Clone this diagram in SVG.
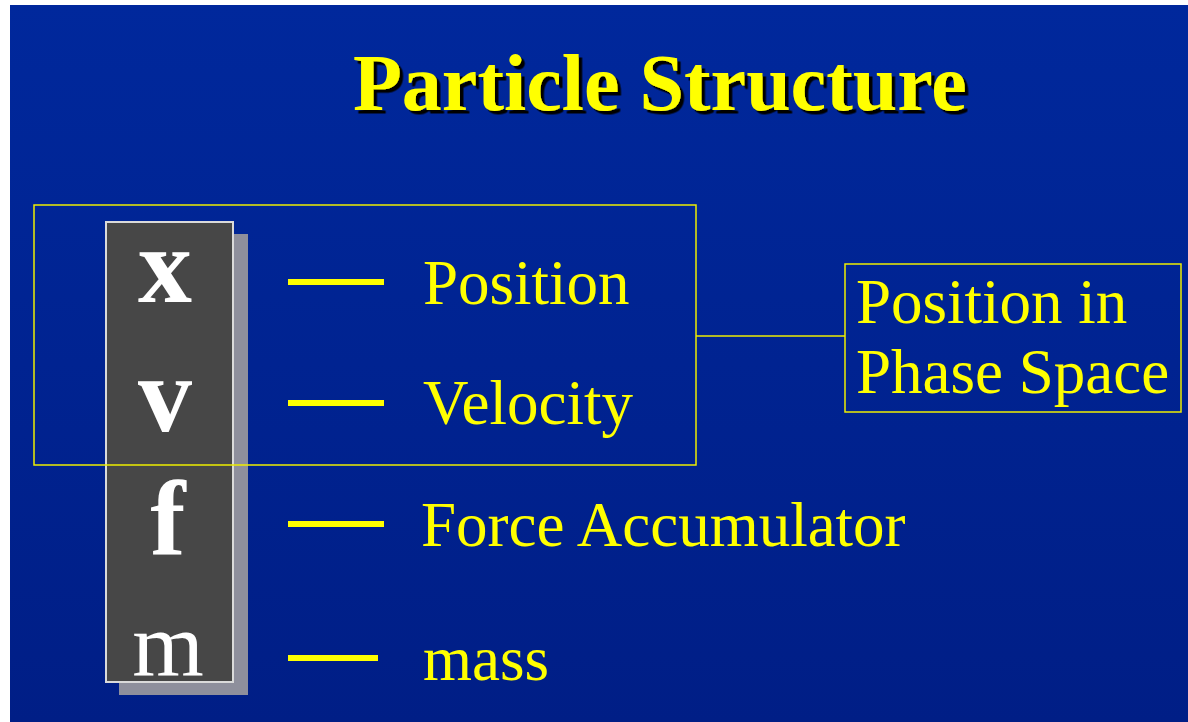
<svg xmlns="http://www.w3.org/2000/svg" width="1188" height="722" viewBox="0 0 1188 722">
  <defs>
    <linearGradient id="bg" x1="0" y1="0" x2="0" y2="1">
      <stop offset="0" stop-color="#00289C"/>
      <stop offset="1" stop-color="#001E86"/>
    </linearGradient>
    <filter id="shadow" x="-5%" y="-20%" width="110%" height="140%">
      <feDropShadow dx="3.5" dy="3.5" stdDeviation="0.6" flood-color="#000000" flood-opacity="1"/>
    </filter>
    <style>
      .title { font-family: "Liberation Serif", "Times New Roman", serif; font-weight: bold; font-size: 80px; fill: #FFFF00; }
      .label { font-family: "Liberation Serif", "Times New Roman", serif; font-size: 63px; fill: #FFFF00; }
      .sym { font-family: "Liberation Serif", "Times New Roman", serif; fill: #FFFFFF; text-anchor: middle; }
      .dash { fill: #FFFF00; }
      .frame { fill: none; stroke: #EEEE00; stroke-width: 1.5; }
    </style>
  </defs>

  <rect x="0" y="0" width="1188" height="722" fill="#FFFFFF"/>
  <rect x="10" y="5" width="1178" height="717" fill="url(#bg)"/>

  <text class="title" x="353" y="110" filter="url(#shadow)">Particle Structure</text>

  <g id="particle-column">
    <rect x="119" y="234" width="129" height="461" fill="#8E8F9C"/>
    <rect x="106" y="222" width="127" height="460" fill="#474747" stroke="#DADADA" stroke-width="2"/>
    <text class="sym" x="165" y="302" font-size="108" font-weight="bold">x</text>
    <text class="sym" x="165" y="431" font-size="108" font-weight="bold">v</text>
    <text class="sym" x="168" y="554" font-size="106" font-weight="bold">f</text>
    <text class="sym" x="168" y="676" font-size="92">m</text>
  </g>

  <g id="phase-group">
    <rect class="frame" x="34" y="205" width="662" height="260"/>
  </g>

  <g id="phase-space-label">
    <rect class="frame" x="845" y="264" width="336" height="148"/>
    <text class="label" x="856" y="323">Position in</text>
    <text class="label" x="856" y="393">Phase Space</text>
  </g>

  <g id="position"><rect class="dash" x="288" y="279" width="96" height="6"/><text class="label" x="423" y="304">Position</text></g>
  <g id="velocity"><rect class="dash" x="288" y="400" width="96" height="6"/><text class="label" x="423" y="424">Velocity</text></g>
  <g id="force"><rect class="dash" x="288" y="521" width="96" height="6"/><text class="label" x="421" y="546">Force Accumulator</text></g>
  <g id="mass"><rect class="dash" x="288" y="655" width="90" height="6"/><text class="label" x="423" y="680">mass</text></g>

  <g id="connectors">
    <line x1="696" y1="336" x2="845" y2="336" stroke="#EEEE00" stroke-width="1.5"/>
  </g>
</svg>
